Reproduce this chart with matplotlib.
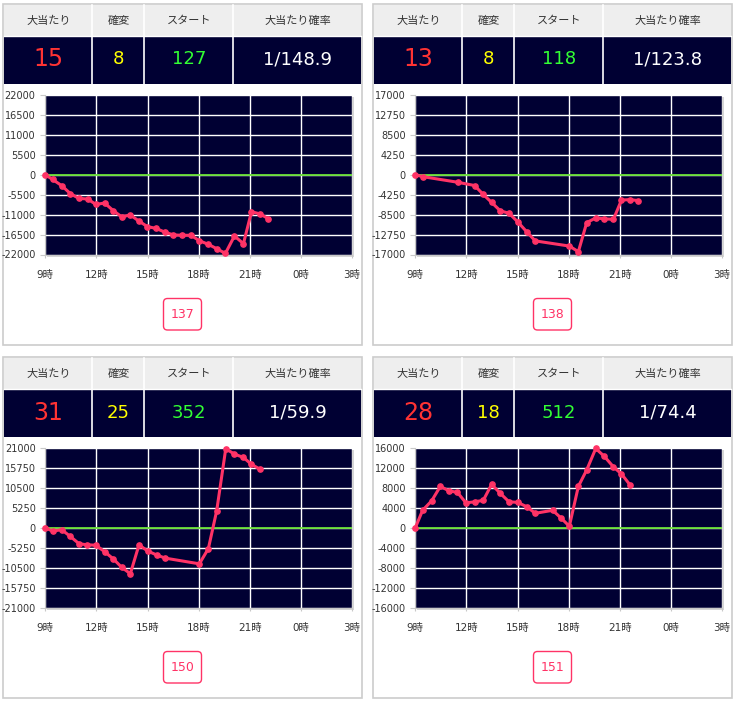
import matplotlib
matplotlib.use('Agg')
import matplotlib.pyplot as plt
from matplotlib.patches import Rectangle, FancyBboxPatch
import numpy as np

W, H = 737, 704

plt.rcParams['font.family'] = ['DejaVu Sans', 'Noto Sans CJK JP']

NAVY = '#000033'
LINE = '#ff3366'
ZERO = '#66dd33'
TEXT = '#333333'

columns = ['大当たり', '確変', 'スタート', '大当たり確率']
xtick_hours = [9, 12, 15, 18, 21, 24, 27]
xtick_labels = ['9時', '12時', '15時', '18時', '21時', '0時', '3時']

# header values per machine
big_hits = ['15', '13', '31', '28']
kakuhen = ['8', '8', '25', '18']
starts = ['127', '118', '352', '512']
odds = ['1/148.9', '1/123.8', '1/59.9', '1/74.4']
machine_no = ['137', '138', '150', '151']
y_limits = [22000, 17000, 21000, 16000]

# difference (coins) over the day
p1_hours = [9.0, 9.43, 9.96, 10.47, 10.96, 11.49, 11.97, 12.48, 12.99, 13.48,
            13.99, 14.5, 14.99, 15.5, 16.0, 16.51, 17.04, 17.55, 18.04, 18.57,
            19.06, 19.57, 20.1, 20.63, 21.1, 21.6, 22.08]
p1_vals = [0, -1300, -3000, -5200, -6500, -6700, -8200, -7800, -9900, -11600,
           -11100, -12800, -14300, -14800, -15800, -16600, -16700, -16700,
           -18200, -19200, -20400, -21700, -16900, -19000, -10200, -10800,
           -12100]

p2_hours = [9.0, 9.43, 11.49, 12.48, 12.99, 13.48, 13.99, 14.5, 15.0, 15.55,
            16.04, 18.04, 18.57, 19.06, 19.59, 20.1, 20.63, 21.1, 21.6, 22.08]
p2_vals = [0, -400, -1600, -2300, -4200, -5900, -7700, -8200, -10000, -12200,
           -14100, -15200, -16400, -10200, -9200, -9400, -9500, -5400, -5300,
           -5500]

p3_hours = [9.0, 9.43, 9.96, 10.47, 10.98, 11.47, 11.97, 12.48, 12.99, 13.48,
            13.99, 14.5, 15.0, 15.55, 16.04, 18.04, 18.57, 19.06, 19.59, 20.1,
            20.63, 21.1, 21.6]
p3_vals = [0, -900, -500, -2300, -4200, -4500, -4600, -6300, -8200, -10400,
           -12100, -4500, -6100, -7200, -8000, -9500, -5500, 4500, 20800,
           19400, 18500, 16700, 15400]

p4_hours = [9.0, 9.43, 9.96, 10.47, 10.98, 11.47, 11.97, 12.48, 12.99, 13.48,
            13.99, 14.5, 15.0, 15.55, 16.04, 17.06, 17.57, 18.04, 18.57, 19.06,
            19.59, 20.1, 20.63, 21.1, 21.6]
p4_vals = [0, 3500, 5400, 8300, 7400, 7100, 5000, 5200, 5500, 8700, 6900,
           5200, 5100, 4200, 2900, 3500, 1900, 300, 8300, 11600, 15900, 14300,
           12200, 10800, 8600]

series = [(p1_hours, p1_vals), (p2_hours, p2_vals),
          (p3_hours, p3_vals), (p4_hours, p4_vals)]

# top-left corner of each panel, in pixels
offsets = [(0, 0), (370, 0), (0, 353), (370, 353)]


def px_rect(x, y, w, h):
    '''pixel box (top-left origin) -> figure fraction rect'''
    return [x / W, 1 - (y + h) / H, w / W, h / H]


fig = plt.figure(figsize=(W / 100, H / 100), dpi=100)
fig.patch.set_facecolor('white')

# background axes in pixel coordinates for the boxes / tables
bg = fig.add_axes([0, 0, 1, 1])
bg.set_xlim(0, W)
bg.set_ylim(H, 0)
bg.axis('off')

col_edges = [4.5, 92.5, 144.5, 233.5, 361.5]

for i, (dx, dy) in enumerate(offsets):
    # outer panel border
    bg.add_patch(Rectangle((dx + 3.5, dy + 3.5), 359, 341.5, fill=False,
                           edgecolor='#cccccc', lw=1.2))
    # header rows
    bg.add_patch(Rectangle((dx + col_edges[0], dy + 5), col_edges[-1] - col_edges[0],
                           30.5, facecolor='#eeeeee', edgecolor='none'))
    bg.add_patch(Rectangle((dx + col_edges[0], dy + 35.5), col_edges[-1] - col_edges[0],
                           48, facecolor=NAVY, edgecolor='none'))
    for e in col_edges[1:-1]:
        bg.plot([dx + e, dx + e], [dy + 5, dy + 83.5], color='white', lw=1.2)
    bg.plot([dx + col_edges[0], dx + col_edges[-1]], [dy + 35.5, dy + 35.5],
            color='white', lw=1)

    values = [big_hits[i], kakuhen[i], starts[i], odds[i]]
    colors = ['#ff3333', '#ffff00', '#33ff33', 'white']
    sizes = [17, 13, 13, 13]
    for c in range(4):
        cx = dx + (col_edges[c] + col_edges[c + 1]) / 2
        bg.text(cx, dy + 20.5, columns[c], ha='center', va='center',
                fontsize=8, color=TEXT)
        bg.text(cx, dy + 59.5, values[c], ha='center', va='center',
                fontsize=sizes[c], color=colors[c])

    # plot shadow
    bg.add_patch(Rectangle((dx + 47, dy + 97), 307, 160,
                           facecolor='#d6d6d6', edgecolor='none'))

    # machine number button
    bg.add_patch(FancyBboxPatch((dx + 163.5, dy + 298.5), 38, 31.5,
                                boxstyle='round,pad=0,rounding_size=4',
                                facecolor='white', edgecolor=LINE, lw=1))
    bg.text(dx + 182.5, dy + 314.5, machine_no[i], ha='center', va='center',
            fontsize=9, color=LINE)

    # the chart itself
    ax = fig.add_axes(px_rect(dx + 45.3, dy + 95, 306.7, 159.5))
    ax.set_facecolor(NAVY)
    ymax = y_limits[i]
    yticks = np.linspace(-ymax, ymax, 9)
    ax.set_xlim(9, 27)
    ax.set_ylim(-ymax, ymax)
    ax.set_xticks(xtick_hours)
    ax.set_xticklabels(xtick_labels)
    ax.set_yticks(yticks)
    ax.set_yticklabels(['%d' % v for v in yticks])
    ax.grid(True, color='white', lw=1)
    ax.set_axisbelow(True)
    ax.axhline(0, color=ZERO, lw=1.3, zorder=2)

    hours, vals = series[i]
    ax.plot(hours, vals, color=LINE, lw=2.2, marker='o', ms=3.8,
            zorder=3, clip_on=False)

    for s in ['top', 'right']:
        ax.spines[s].set_visible(False)
    for s in ['left', 'bottom']:
        ax.spines[s].set_color('#c8c8c8')
    ax.tick_params(axis='y', length=3.6, pad=3.4, color='#c8c8c8',
                   labelsize=7, labelcolor=TEXT)
    ax.tick_params(axis='x', length=2.5, pad=9, color='#c8c8c8',
                   labelsize=7.5, labelcolor=TEXT)

fig.savefig('out.png', dpi=100)
